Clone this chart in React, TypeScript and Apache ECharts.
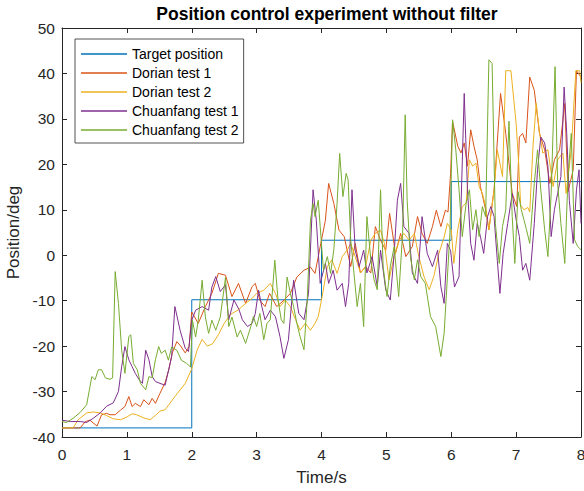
import React, { useEffect, useRef } from "react";
import * as echarts from "echarts";

const titleText = "Position control experiment without filter";
const seriesNames = ["Target position", "Dorian test 1", "Dorian test 2", "Chuanfang test 1", "Chuanfang test 2"];
const seriesColors = ["#0072BD", "#D95319", "#EDB120", "#7E2F8E", "#77AC30"];

const targetT = [0, 2, 2, 4, 4, 6, 6, 8];
const targetV = [-38, -38, -9.8, -9.8, 3.3, 3.3, 16.2, 16.2];

const dorian1T = [0,0.28,0.36,0.43,0.54,0.61,0.69,0.74,0.82,0.9,
0.97,1.03,1.08,1.13,1.21,1.26,1.34,1.39,1.44,1.51,
1.59,1.65,1.7,1.77,1.83,1.9,1.96,2.0,2.1,2.21,
2.31,2.41,2.52,2.62,2.72,2.83,2.93,2.98,3.05,3.13,
3.2,3.31,3.42,3.52,3.62,3.73,3.83,3.9,3.98,4.06,
4.11,4.19,4.27,4.35,4.45,4.52,4.6,4.68,4.76,4.83,
4.91,4.99,5.05,5.14,5.22,5.3,5.4,5.48,5.55,5.63,
5.71,5.77,5.84,5.91,5.95,5.99,6.02,6.1,6.15,6.2,
6.25,6.3,6.35,6.4,6.45,6.53,6.58,6.66,6.76,6.84,
6.94,7.01,7.05,7.1,7.15,7.21,7.28,7.36,7.44,7.52,
7.59,7.67,7.75,7.8,7.88,7.93,8.0];
const dorian1V = [-38,-38,-36.6,-36.3,-37.6,-35.1,-34.8,-35.1,-35.1,-34.1,
-33.3,-31.1,-33.3,-32.6,-33.3,-31.8,-32.9,-31.5,-32.6,-30.4,
-28,-25,-21.5,-19,-20,-21.5,-20,-12.5,-15,-11.3,
-8.4,-4,-4.4,-9.1,-6.2,-10.6,-6.9,-6.2,-9.9,-11.3,
-8.4,-11.3,-9.9,-8.4,-4.8,-3.3,-2.6,-4,1.9,7.7,
15.8,11.4,5.5,4.1,-2.5,2.6,-3.9,-2.5,-3.9,6.3,
3.3,1.1,9.2,0.4,4.8,-0.3,1.9,8.5,4.8,2.6,
6.3,9.9,6.3,9.9,9.5,18,29.5,24,22.5,24.7,
19.6,27.6,24,21,15.1,10,5.6,14.4,35.6,26.8,
13.6,10.7,26,26.8,24.7,39.2,36.3,26.8,23.2,15.8,
21,23.2,33.4,14,18.8,40.6,39.2];

const dorian2T = [0,0.17,0.25,0.38,0.48,0.59,0.69,0.79,0.9,1.0,
1.08,1.15,1.26,1.36,1.46,1.51,1.59,1.74,1.9,2.0,
2.08,2.16,2.24,2.32,2.41,2.5,2.6,2.72,2.83,2.93,
3.0,3.11,3.21,3.29,3.36,3.44,3.52,3.6,3.67,3.75,
3.83,3.9,3.95,4.01,4.09,4.16,4.24,4.32,4.4,4.45,
4.52,4.6,4.68,4.76,4.83,4.91,4.97,5.04,5.12,5.2,
5.27,5.35,5.43,5.5,5.58,5.66,5.73,5.81,5.89,5.94,
6.0,6.04,6.1,6.17,6.23,6.28,6.33,6.38,6.43,6.48,
6.53,6.58,6.66,6.71,6.79,6.84,6.92,7.0,7.04,7.07,
7.12,7.18,7.21,7.26,7.31,7.36,7.41,7.49,7.57,7.64,
7.72,7.77,7.85,7.92,7.98,8.0];
const dorian2V = [-38,-38,-36.2,-34.7,-34.5,-34.7,-35.3,-36,-36.2,-35.6,
-34.9,-35.1,-35.8,-36.2,-35,-34.3,-34,-31.1,-28.2,-25,
-21,-18.5,-20,-19.5,-17.5,-15,-13,-12,-10.6,-9.5,
-8.4,-7.7,-6.2,-8.4,-11.3,-9.9,-11.3,-14.2,-16.5,-15,
-16.5,-15,-13.5,-9.1,-2.5,-1,-4,-0.3,1.2,2.6,
-0.3,-3.9,-2.5,3.3,4.8,5.5,2.6,-5.4,-0.3,3.3,
4.8,3.3,4.8,-0.3,-4.7,-7.6,-4.7,0.4,4,7,
5.6,-1.8,5.6,10.7,11.5,21,19.6,20.3,15.1,13.6,
10.7,5.6,14.4,23.2,17.3,40.6,40.6,29,20,11,
10,10.5,9.5,24,33.4,27,22.5,23.2,15.1,21,
22.5,13.6,23.2,40.6,40.6,38];

const chuan1T = [0,0.13,0.28,0.38,0.48,0.59,0.69,0.79,0.87,0.92,
0.97,1.03,1.08,1.13,1.19,1.24,1.29,1.34,1.39,1.44,
1.51,1.59,1.69,1.74,1.82,1.9,1.95,2.0,2.06,2.16,
2.26,2.31,2.37,2.44,2.52,2.57,2.65,2.73,2.78,2.86,
2.93,2.98,3.03,3.08,3.13,3.21,3.29,3.36,3.42,3.49,
3.57,3.65,3.73,3.8,3.87,3.92,3.98,4.06,4.11,4.18,
4.24,4.32,4.37,4.42,4.47,4.52,4.58,4.65,4.7,4.78,
4.86,4.91,4.99,5.06,5.12,5.17,5.22,5.27,5.35,5.4,
5.48,5.55,5.63,5.71,5.79,5.84,5.89,5.94,5.99,6.05,
6.12,6.2,6.25,6.3,6.35,6.4,6.45,6.5,6.56,6.61,
6.66,6.71,6.75,6.8,6.87,6.94,7.0,7.05,7.1,7.15,
7.21,7.28,7.33,7.38,7.44,7.49,7.54,7.59,7.64,7.69,
7.74,7.78,7.82,7.88,7.93,7.97,8.0];
const chuan1V = [-36.3,-36.6,-36.6,-36.8,-35.9,-34.7,-33.2,-32.5,-30,-24.5,
-20.1,-23,-24.5,-26,-27.4,-28.2,-20.9,-23,-26.7,-27.8,
-28.2,-28.6,-22.3,-11.3,-16.5,-20.5,-21.2,-14.3,-12.1,-11.3,
-12.1,-7,-4.7,-8,-6.5,-14.2,-9.85,-12,-14.2,-15.7,
-15,-12.8,-7.7,-11.3,-14.2,-12.1,-13.5,-17.9,-22.7,-18.6,
-5.5,-12.8,-14.2,-8.4,14.4,7.7,-6.2,-1.8,-6.2,-3.3,
-7.7,-6.2,-11.3,-6.2,14.4,1.1,-2.5,1.1,-3.9,-0.3,
-6.9,1.1,-7.6,-9.85,0.4,12.1,15.8,6.3,4.8,-3.9,
-6.2,8.5,0.4,-2.5,1.1,-6.9,-10.6,2.6,1,-7,
-4.7,35.6,14.4,2.6,-1.1,7,4.1,0.4,8.5,10.7,
8.5,-1.1,-8.4,0.4,7,13.6,7.8,4.1,-3.3,-1.8,
-5.5,7,18.8,26,24.7,19.6,4.1,10,13.6,17.3,
37,26.8,12.1,2.6,14.4,18.8,7];

const chuan2T = [0,0.07,0.17,0.28,0.38,0.46,0.51,0.56,0.61,0.67,
0.74,0.78,0.82,0.87,0.92,0.97,1.03,1.06,1.1,1.16,
1.21,1.29,1.34,1.39,1.44,1.49,1.53,1.59,1.64,1.69,
1.77,1.84,1.92,1.98,2.01,2.06,2.1,2.16,2.21,2.26,
2.31,2.37,2.44,2.52,2.57,2.62,2.7,2.75,2.83,2.91,
2.95,3.0,3.05,3.11,3.16,3.21,3.28,3.33,3.38,3.42,
3.47,3.52,3.57,3.62,3.67,3.73,3.78,3.83,3.87,3.9,
3.95,3.98,4.03,4.09,4.14,4.19,4.24,4.28,4.33,4.38,
4.41,4.45,4.5,4.55,4.6,4.65,4.7,4.76,4.81,4.86,
4.91,4.95,5.01,5.06,5.12,5.19,5.25,5.29,5.32,5.37,
5.43,5.48,5.53,5.6,5.68,5.76,5.84,5.89,5.94,5.98,
6.02,6.07,6.12,6.17,6.23,6.28,6.33,6.38,6.43,6.48,
6.53,6.58,6.63,6.68,6.74,6.79,6.84,6.89,6.94,6.98,
7.03,7.08,7.12,7.16,7.21,7.28,7.33,7.38,7.44,7.49,
7.54,7.6,7.64,7.69,7.75,7.8,7.85,7.9,7.95,8.0];
const chuan2V = [-36.6,-36.8,-35.9,-34.6,-32.9,-26.7,-27.4,-25.2,-25.2,-27,
-27.3,-27,-3.6,-10.6,-20.9,-26,-17.9,-17.5,-23.8,-25.2,
-28.2,-29.6,-26.7,-27,-23,-20.1,-21.6,-20.9,-23.1,-20.2,
-20.9,-23.1,-23.8,-24.6,-14.3,-18,-14.3,-5.5,-13.6,-17.2,
-14.3,-16.5,-13.6,-4.9,-15.7,-13.6,-18,-16.5,-19.4,-15.7,
-13.5,-15.7,-12.8,-18.6,-15,-14.2,-1.1,-9.9,-14.2,-15,
-4.8,-8.4,-11.3,-15,-17.9,-20.8,-9.9,7.7,11.4,8.5,
12.1,6.3,-3.3,-0.3,-4,1.2,11.4,22.4,12.9,18,
16.6,3.35,-3.9,-11.3,-6.2,-15.7,8.5,-1,-5.4,-7.6,
14.4,-2.5,-9.1,-2.5,1.9,-9.1,4.8,30.9,12.1,-0.3,
-5.4,-1,-4.7,-6.2,-13.5,-15.7,-22.3,-17.2,-5,5,
29.8,23.2,14.4,4.1,11.5,14.4,5.6,10,4.1,10.7,
8.5,43,42.2,7,-1.8,6.3,10,29.5,8.5,-1.8,
14,10,7.8,5.6,2.6,15.8,23.2,14.4,5.6,-0.3,
13.6,41.5,15.8,7,-1.8,17.3,26.8,3.4,1.9,1.2];

const xTicksMin = 0, xTicksMax = 8, xTicksStep = 1;
const yTicksMin = -40, yTicksMax = 50, yTicksStep = 10;

const FONT = "'Liberation Sans', Arial, Helvetica, sans-serif";
const AX = "#262626";

function pairs(t: number[], v: number[]) {
  return t.map((x, i) => [x, v[i]]);
}

export default function App() {
  const ref = useRef<HTMLDivElement>(null);
  useEffect(() => {
    if (!ref.current) return;
    const chart = echarts.init(ref.current, undefined, { renderer: "svg" });
    const allT = [targetT, dorian1T, dorian2T, chuan1T, chuan2T];
    const allV = [targetV, dorian1V, dorian2V, chuan1V, chuan2V];
    const axisCommon = {
      type: "value" as const,
      axisLine: { show: true, onZero: false, lineStyle: { color: AX, width: 1 } },
      axisTick: { show: true, inside: true, length: 5, lineStyle: { color: AX, width: 1 } },
      splitLine: { show: false },
    };
    chart.setOption({
      animation: false,
      backgroundColor: "#ffffff",
      title: {
        text: titleText,
        left: 322,
        top: 0,
        textAlign: "center",
        textStyle: { fontFamily: FONT, fontSize: 17.5, fontWeight: "bold", color: "#000" },
      },
      legend: {
        data: seriesNames,
        orient: "vertical",
        left: 75,
        top: 39,
        icon: "rect",
        itemWidth: 46,
        itemHeight: 1.5,
        itemGap: 5,
        padding: [8, 5, 6, 6],
        borderColor: AX,
        borderWidth: 0.8,
        backgroundColor: "#ffffff",
        textStyle: { fontFamily: FONT, fontSize: 14, color: "#000" },
      },
      grid: { left: 62, right: 3, top: 28, bottom: 54, containLabel: false, outerBoundsMode: "none" },
      xAxis: [
        {
          ...axisCommon,
          position: "bottom",
          min: xTicksMin,
          max: xTicksMax,
          interval: xTicksStep,
          axisLabel: { color: AX, fontFamily: FONT, fontSize: 15.5, margin: 9 },
          name: "Time/s",
          nameLocation: "middle",
          nameGap: 32,
          nameTextStyle: { color: AX, fontFamily: FONT, fontSize: 17 },
        },
        {
          ...axisCommon,
          position: "top",
          min: xTicksMin,
          max: xTicksMax,
          interval: xTicksStep,
          axisLabel: { show: false },
        },
      ],
      yAxis: [
        {
          ...axisCommon,
          position: "left",
          min: yTicksMin,
          max: yTicksMax,
          interval: yTicksStep,
          axisLabel: { color: AX, fontFamily: FONT, fontSize: 15.5, margin: 7 },
          name: "Position/deg",
          nameLocation: "middle",
          nameRotate: 90,
          nameGap: 32,
          nameTextStyle: { color: AX, fontFamily: FONT, fontSize: 17 },
        },
        {
          ...axisCommon,
          position: "right",
          min: yTicksMin,
          max: yTicksMax,
          interval: yTicksStep,
          axisLabel: { show: false },
        },
      ],
      series: seriesNames.map((name, i) => ({
        name,
        type: "line",
        xAxisIndex: 0,
        yAxisIndex: 0,
        data: pairs(allT[i], allV[i]),
        symbol: "none",
        showSymbol: false,
        clip: true,
        lineStyle: { color: seriesColors[i], width: 1 },
        itemStyle: { color: seriesColors[i] },
        z: 2 + i,
      })),
    });
    return () => chart.dispose();
  }, []);
  return (
    <div
      ref={ref}
      style={{ position: "fixed", left: 0, top: 0, width: 584, height: 491, background: "#fff" }}
    />
  );
}
